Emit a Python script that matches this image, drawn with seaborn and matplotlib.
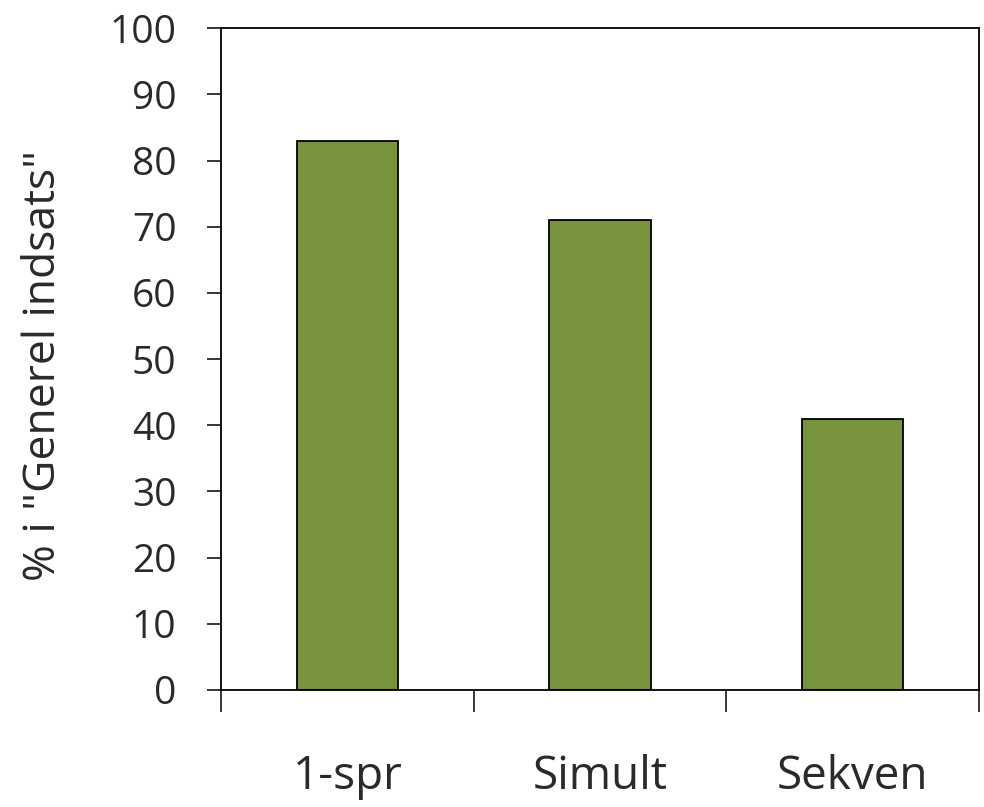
import matplotlib
matplotlib.use('Agg')
import matplotlib.pyplot as plt
import seaborn as sns
import pandas as pd

# --- data ---
categories = ['1-spr', 'Simult', 'Sekven']
values = [83, 71, 41]
y_ticks = list(range(0, 101, 10))

df = pd.DataFrame({'Gruppe': categories, 'Pct': values})

sns.set_style('white')
plt.rcParams['font.family'] = ['Open Sans', 'DejaVu Sans']

fig = plt.figure(figsize=(9.84, 8.07), dpi=100)
ax = fig.add_axes([0.2246, 0.145, 0.7703, 0.820])

sns.barplot(data=df, x='Gruppe', y='Pct', color='#77933C', edgecolor='black',
            linewidth=1.3, width=0.4, saturation=1, ax=ax)

ax.set_xlim(-0.5, 2.5)
ax.set_ylim(0, 100)
ax.set_yticks(y_ticks)
ax.tick_params(axis='y', direction='out', length=10, width=1.1, color='black',
               pad=22, labelsize=28, labelcolor='#2a2a2a', left=True)

# labels sit at bar centres without tick marks, marks go on category borders
ax.tick_params(axis='x', which='major', length=0, pad=46, labelsize=33,
               labelcolor='#2a2a2a')
ax.set_xticks([-0.5, 0.5, 1.5, 2.5], minor=True)
ax.tick_params(axis='x', which='minor', direction='out', length=16, width=1.1,
               color='black', bottom=True)

ax.set_xlabel('')
ax.set_ylabel('% i "Generel indsats"', fontsize=32, color='#2a2a2a')
ax.yaxis.set_label_coords(-0.205, 0.49)

for side in ['left', 'right', 'top', 'bottom']:
    ax.spines[side].set_visible(True)
    ax.spines[side].set_color('black')
    ax.spines[side].set_linewidth(1.3)

fig.savefig('out.png', dpi=100)
plt.close(fig)
